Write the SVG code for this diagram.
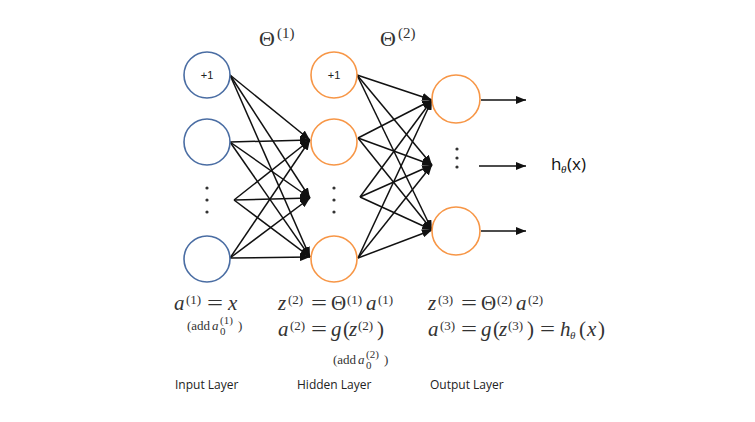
<svg xmlns="http://www.w3.org/2000/svg" width="755" height="422" viewBox="0 0 755 422">
<style>
.in{fill:#fff;stroke:#4A6DA3;stroke-width:1.6}
.hid{fill:#fff;stroke:#F79646;stroke-width:1.6}
.e{stroke:#111;stroke-width:1.5;fill:none;marker-end:url(#ah)}
.m{font-family:"Liberation Serif","DejaVu Serif",serif;fill:#333;font-size:21px}
.s{font-size:13px}
.ss{font-size:11px}
.sm{font-size:13px}
.i{font-style:italic}
.lbl{font-family:"Open Sans","DejaVu Sans",sans-serif;font-size:12px;fill:#222}
.dot{fill:#333}
.one{font-family:"Liberation Sans",Arial,sans-serif;font-size:11px;fill:#222;text-anchor:middle}
</style>
<defs>
<marker id="ah" markerUnits="userSpaceOnUse" markerWidth="10" markerHeight="8" refX="10" refY="4" orient="auto">
<path d="M0,0 L10,4 L0,8 z" fill="#111"/>
</marker>
</defs>
<rect width="755" height="422" fill="#fff"/>

<g id="connectors">
<line class="e" x1="230" y1="75" x2="310" y2="140"/>
<line class="e" x1="230" y1="75" x2="310" y2="198"/>
<line class="e" x1="230" y1="75" x2="310" y2="257"/>
<line class="e" x1="230" y1="142" x2="310" y2="140"/>
<line class="e" x1="230" y1="142" x2="310" y2="198"/>
<line class="e" x1="230" y1="142" x2="310" y2="257"/>
<line class="e" x1="234" y1="200" x2="310" y2="140"/>
<line class="e" x1="234" y1="200" x2="310" y2="198"/>
<line class="e" x1="234" y1="200" x2="310" y2="257"/>
<line class="e" x1="230" y1="258" x2="310" y2="140"/>
<line class="e" x1="230" y1="258" x2="310" y2="198"/>
<line class="e" x1="230" y1="258" x2="310" y2="257"/>

<line class="e" x1="357" y1="75" x2="432" y2="100"/>
<line class="e" x1="357" y1="75" x2="432" y2="165"/>
<line class="e" x1="357" y1="75" x2="432" y2="230"/>
<line class="e" x1="358" y1="138" x2="432" y2="100"/>
<line class="e" x1="358" y1="138" x2="432" y2="165"/>
<line class="e" x1="358" y1="138" x2="432" y2="230"/>
<line class="e" x1="360" y1="197" x2="432" y2="100"/>
<line class="e" x1="360" y1="197" x2="432" y2="165"/>
<line class="e" x1="360" y1="197" x2="432" y2="230"/>
<line class="e" x1="358" y1="258" x2="432" y2="100"/>
<line class="e" x1="358" y1="258" x2="432" y2="165"/>
<line class="e" x1="358" y1="258" x2="432" y2="230"/>

<line class="e" x1="481" y1="100" x2="526" y2="100"/>
<line class="e" x1="479" y1="166" x2="526" y2="166"/>
<line class="e" x1="481" y1="231" x2="526" y2="231"/>
</g>

<g id="input-bias"><circle class="in" cx="207" cy="75" r="23"/><text class="one" x="207" y="79">+1</text></g>
<g id="input-1"><circle class="in" cx="207" cy="142" r="23"/></g>
<g id="input-dots"><circle class="dot" cx="207" cy="188" r="1.6"/><circle class="dot" cx="207" cy="200" r="1.6"/><circle class="dot" cx="207" cy="212" r="1.6"/></g>
<g id="input-n"><circle class="in" cx="207" cy="259" r="23"/></g>

<g id="hidden-bias"><circle class="hid" cx="334" cy="75" r="23"/><text class="one" x="334" y="79">+1</text></g>
<g id="hidden-1"><circle class="hid" cx="334" cy="142" r="23"/></g>
<g id="hidden-dots"><circle class="dot" cx="334" cy="188" r="1.6"/><circle class="dot" cx="334" cy="200" r="1.6"/><circle class="dot" cx="334" cy="212" r="1.6"/></g>
<g id="hidden-n"><circle class="hid" cx="334" cy="259" r="23"/></g>

<g id="output-1"><circle class="hid" cx="456" cy="99" r="24"/></g>
<g id="output-dots"><circle class="dot" cx="457" cy="149" r="1.6"/><circle class="dot" cx="457" cy="158" r="1.6"/><circle class="dot" cx="457" cy="167" r="1.6"/></g>
<g id="output-n"><circle class="hid" cx="456" cy="231" r="24"/></g>

<g id="theta-labels" class="m">
<text x="259" y="46" font-size="22">Θ</text><text x="277" y="38" font-size="15">(1)</text>
<text x="380" y="46" font-size="22">Θ</text><text x="398" y="38" font-size="15">(2)</text>
</g>

<g id="h-label">
<text font-family="'Open Sans','DejaVu Sans',sans-serif" font-size="17" fill="#111" x="551" y="170">h</text>
<text font-family="'Liberation Serif',serif" font-style="italic" font-size="11" fill="#111" x="561" y="173">θ</text>
<text font-family="'Open Sans','DejaVu Sans',sans-serif" font-size="17" fill="#111" x="567" y="170">(x)</text>
</g>

<g id="input-formulas" class="m">
<text x="174" y="310" class="i">a</text>
<text x="186" y="304" class="s">(1)</text>
<text x="207" y="310" textLength="16" lengthAdjust="spacingAndGlyphs">=</text>
<text x="228" y="310" class="i">x</text>
<text x="187" y="330" class="sm">(add</text>
<text x="212" y="330" class="sm i">a</text>
<text x="220" y="324" class="ss">(1)</text>
<text x="220" y="335" class="ss">0</text>
<text x="238" y="330" class="sm">)</text>
<text class="lbl" x="175" y="389">Input Layer</text>
</g>

<g id="hidden-formulas" class="m">
<text x="278" y="310" class="i">z</text>
<text x="288" y="304" class="s">(2)</text>
<text x="311" y="310" textLength="16" lengthAdjust="spacingAndGlyphs">=</text>
<text x="331" y="310">Θ</text>
<text x="347" y="304" class="s">(1)</text>
<text x="366" y="310" class="i">a</text>
<text x="378" y="304" class="s">(1)</text>
<text x="278" y="336" class="i">a</text>
<text x="290" y="330" class="s">(2)</text>
<text x="311" y="336" textLength="16" lengthAdjust="spacingAndGlyphs">=</text>
<text x="331" y="336" class="i">g</text>
<text x="343" y="336">(</text>
<text x="349" y="336" class="i">z</text>
<text x="358" y="330" class="s">(2)</text>
<text x="377" y="336">)</text>
<text x="333" y="364" class="sm">(add</text>
<text x="358" y="364" class="sm i">a</text>
<text x="366" y="358" class="ss">(2)</text>
<text x="366" y="369" class="ss">0</text>
<text x="384" y="364" class="sm">)</text>
<text class="lbl" x="297" y="389">Hidden Layer</text>
</g>

<g id="output-formulas" class="m">
<text x="428" y="310" class="i">z</text>
<text x="438" y="304" class="s">(3)</text>
<text x="461" y="310" textLength="16" lengthAdjust="spacingAndGlyphs">=</text>
<text x="481" y="310">Θ</text>
<text x="497" y="304" class="s">(2)</text>
<text x="516" y="310" class="i">a</text>
<text x="528" y="304" class="s">(2)</text>
<text x="428" y="336" class="i">a</text>
<text x="440" y="330" class="s">(3)</text>
<text x="461" y="336" textLength="16" lengthAdjust="spacingAndGlyphs">=</text>
<text x="481" y="336" class="i">g</text>
<text x="493" y="336">(</text>
<text x="499" y="336" class="i">z</text>
<text x="508" y="330" class="s">(3)</text>
<text x="527" y="336">)</text>
<text x="540" y="336" textLength="15" lengthAdjust="spacingAndGlyphs">=</text>
<text x="560" y="336" class="i">h</text>
<text x="570" y="339" class="ss i">θ</text>
<text x="579" y="336">(</text>
<text x="587" y="336" class="i">x</text>
<text x="598" y="336">)</text>
<text class="lbl" x="430" y="389">Output Layer</text>
</g>
</svg>
